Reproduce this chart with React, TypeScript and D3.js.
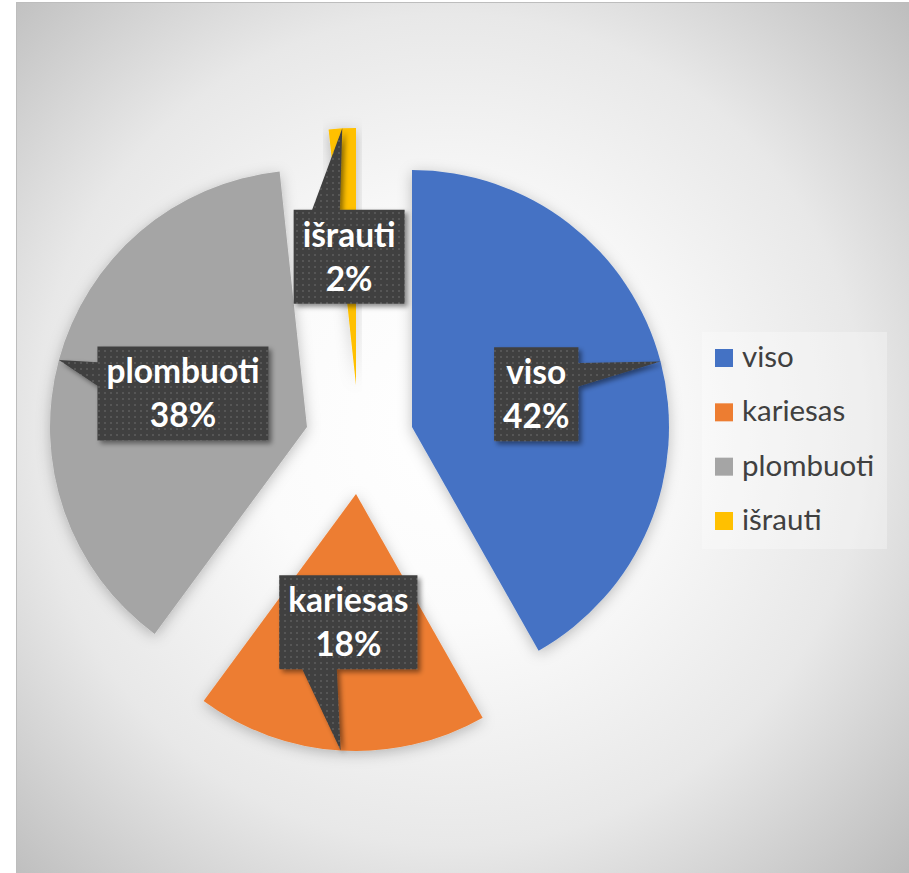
import React, { useEffect, useRef } from "react";
import * as d3 from "d3";

const categories = ["viso", "kariesas", "plombuoti", "išrauti"];
const values = [41.8, 18.3, 38.2, 1.7];
const colors = ["#4472C4", "#ED7D31", "#A5A5A5", "#FFC000"];
// layout: per-slice explosion offsets (px)
const explode: [number, number][] = [[52.5, 0], [-3.5, 67], [-52.5, 0], [-3.5, -42]];

const W = 909, H = 873;
const CX = 359.5, CY = 427, R = 257;
const LABEL_FONT = "Lato, 'Open Sans', sans-serif";

export default function App() {
  const ref = useRef<SVGSVGElement>(null);
  useEffect(() => {
    const svg = d3.select(ref.current);
    svg.selectAll("*").remove();
    const defs = svg.append("defs");
    const rg = defs.append("radialGradient").attr("id", "bg").attr("gradientUnits", "userSpaceOnUse")
      .attr("cx", 450).attr("cy", 430).attr("r", 640);
    [[0, "#ffffff"], [0.3, "#fbfbfb"], [0.65, "#e8e8e8"], [1, "#bbbbbb"]].forEach(([o, c]) =>
      rg.append("stop").attr("offset", o as number).attr("stop-color", c as string));
    const pat = defs.append("pattern").attr("id", "dots").attr("patternUnits", "userSpaceOnUse")
      .attr("width", 6).attr("height", 6);
    pat.append("rect").attr("width", 6).attr("height", 6).attr("fill", "#404040");
    pat.append("rect").attr("x", 2).attr("y", 2).attr("width", 2).attr("height", 2).attr("fill", "#575757");
    const f1 = defs.append("filter").attr("id", "sliceShadow").attr("x", "-20%").attr("y", "-20%").attr("width", "140%").attr("height", "140%");
    f1.append("feDropShadow").attr("dx", 0).attr("dy", 3).attr("stdDeviation", 7).attr("flood-color", "#000").attr("flood-opacity", 0.25);
    const f2 = defs.append("filter").attr("id", "boxShadow").attr("x", "-20%").attr("y", "-20%").attr("width", "140%").attr("height", "140%");
    f2.append("feDropShadow").attr("dx", 3).attr("dy", 3).attr("stdDeviation", 2.5).attr("flood-color", "#000").attr("flood-opacity", 0.45);

    svg.append("rect").attr("x", 16.5).attr("y", 2.5).attr("width", 900).attr("height", 880)
      .attr("fill", "url(#bg)").attr("stroke", "#bdbdbd").attr("stroke-width", 1);

    const pie = d3.pie<number>().sort(null).value(d => d)(values);
    const arc = d3.arc<d3.PieArcDatum<number>>().innerRadius(0).outerRadius(R);

    const slices = svg.append("g");
    pie.forEach((p, i) => {
      slices.append("path")
        .attr("d", arc(p) as string)
        .attr("transform", `translate(${CX + explode[i][0]},${CY + explode[i][1]})`)
        .attr("fill", colors[i])
        .attr("filter", "url(#sliceShadow)");
    });

    const total = d3.sum(values);
    const labels = svg.append("g");
    pie.forEach((p, i) => {
      const ax = CX + explode[i][0], ay = CY + explode[i][1];
      const mid = (p.startAngle + p.endAngle) / 2;
      const tx = ax + R * Math.sin(mid), ty = ay - R * Math.cos(mid);
      const [ccx, ccy] = arc.centroid(p);
      const bx = ax + ccx, by = ay + ccy;
      const g = labels.append("g");
      const path = g.append("path");
      const t1 = g.append("text").text(categories[i]).attr("x", bx).attr("y", by - 10)
        .attr("text-anchor", "middle").attr("fill", "#fff").attr("font-family", LABEL_FONT)
        .attr("font-weight", 700).attr("font-size", 33.5);
      const t2 = g.append("text").text(Math.round(values[i] / total * 100) + "%").attr("x", bx).attr("y", by + 34)
        .attr("text-anchor", "middle").attr("fill", "#fff").attr("font-family", LABEL_FONT)
        .attr("font-weight", 700).attr("font-size", 33.5);
      const tw = Math.max((t1.node() as SVGTextElement).getComputedTextLength(), (t2.node() as SVGTextElement).getComputedTextLength());
      const w = tw + 18, h = 94;
      const x0 = bx - w / 2, y0 = by - h / 2;
      const dx = tx - bx, dy = ty - by;
      const dq = dx * h / w;
      let dstr = "";
      if (Math.abs(dy) - Math.abs(dq) > 0) {
        const xa = x0 + w * (dx > 0 ? 7 : 2) / 12, xb = x0 + w * (dx > 0 ? 10 : 5) / 12;
        if (dy < 0) {
          dstr = `M${x0},${y0}L${xa},${y0}L${tx},${ty}L${xb},${y0}L${x0 + w},${y0}L${x0 + w},${y0 + h}L${x0},${y0 + h}Z`;
        } else {
          dstr = `M${x0},${y0}L${x0 + w},${y0}L${x0 + w},${y0 + h}L${xb},${y0 + h}L${tx},${ty}L${xa},${y0 + h}L${x0},${y0 + h}Z`;
        }
      } else {
        const ya = y0 + h * (dy > 0 ? 7 : 2) / 12, yb = y0 + h * (dy > 0 ? 10 : 5) / 12;
        if (dx > 0) {
          dstr = `M${x0},${y0}L${x0 + w},${y0}L${x0 + w},${ya}L${tx},${ty}L${x0 + w},${yb}L${x0 + w},${y0 + h}L${x0},${y0 + h}Z`;
        } else {
          dstr = `M${x0},${y0}L${x0 + w},${y0}L${x0 + w},${y0 + h}L${x0},${y0 + h}L${x0},${yb}L${tx},${ty}L${x0},${ya}Z`;
        }
      }
      path.attr("d", dstr).attr("fill", "url(#dots)").attr("filter", "url(#boxShadow)");
    });

    // legend
    const lg = svg.append("g");
    lg.append("rect").attr("x", 702).attr("y", 332).attr("width", 185).attr("height", 217)
      .attr("fill", "#ffffff").attr("fill-opacity", 0.3);
    const ly = d3.scalePoint<string>().domain(categories).range([358, 521]);
    categories.forEach((c, i) => {
      const y = ly(c) as number;
      lg.append("rect").attr("x", 715).attr("y", y - 9).attr("width", 18).attr("height", 18).attr("fill", colors[i]);
      lg.append("text").text(c).attr("x", 742).attr("y", y + 9).attr("fill", "#404040")
        .attr("font-family", LABEL_FONT).attr("font-size", 29.5);
    });
  }, []);
  return (
    <svg ref={ref} width={W} height={H} style={{ position: "absolute", left: 0, top: 0, display: "block" }} />
  );
}
